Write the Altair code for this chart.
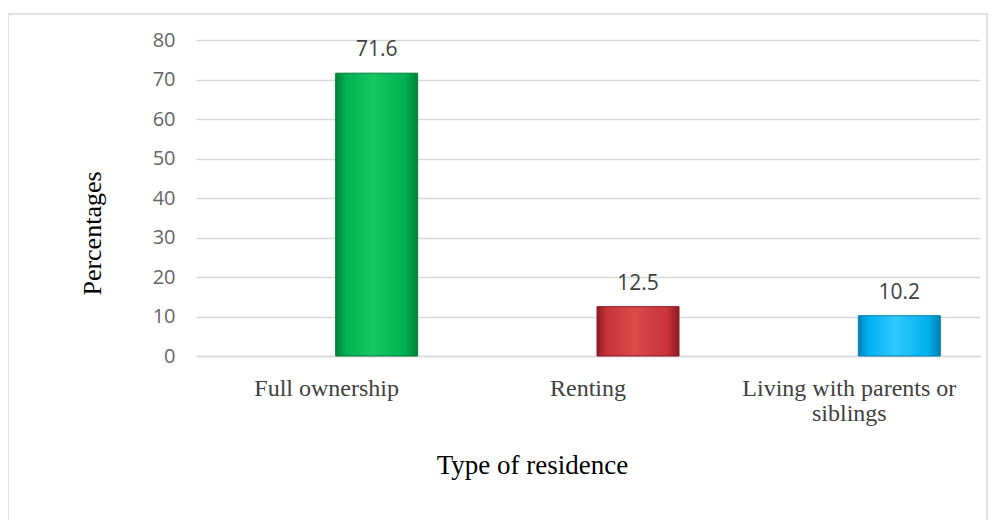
import altair as alt
import pandas as pd

categories = ["Full ownership", "Renting", "Living with parents or siblings"]
values = [71.6, 12.5, 10.2]
y_ticks = [0, 10, 20, 30, 40, 50, 60, 70, 80]
fills = ["#00b050", "#c8343a", "#00b0f0"]
edges = ["#00803a", "#8e1b25", "#0080b0"]
lights = ["#16c862", "#dc4a48", "#33c8ff"]

df = pd.DataFrame({"category": categories, "value": values})

x_enc = alt.X(
    "category:N",
    sort=categories,
    scale=alt.Scale(paddingInner=0, paddingOuter=0),
    axis=alt.Axis(
        title="Type of residence",
        titleFont="Liberation Serif",
        titleFontSize=27,
        titleFontWeight="normal",
        titleColor="#000000",
        titleX=336,
        titleY=117,
        titleBaseline="alphabetic",
        labelAngle=0,
        labelFont="Liberation Serif",
        labelFontSize=24,
        labelColor="#404040",
        labelPadding=20,
        labelLineHeight=25,
        labelLimit=0,
        labelExpr="datum.label == 'Living with parents or siblings' ? ['Living with parents or', 'siblings'] : datum.label",
        ticks=False,
        domain=True,
        domainColor="#d9d9d9",
        domainWidth=1.5,
        grid=False,
    ),
)

y_enc = alt.Y(
    "value:Q",
    scale=alt.Scale(domain=[0, 80], nice=False),
    axis=alt.Axis(
        title="Percentages",
        titleFont="Liberation Serif",
        titleFontSize=26,
        titleFontWeight="normal",
        titleColor="#000000",
        titleX=-104,
        titleY=193,
        titleBaseline="middle",
        values=y_ticks,
        labelFont="Open Sans",
        labelFontSize=20,
        labelColor="#666666",
        labelPadding=21,
        ticks=False,
        domain=False,
        grid=True,
        gridColor="#d9d9d9",
        gridWidth=1.5,
    ),
)

base = alt.Chart(df)

bar_layers = []
for cat, f, e, l in zip(categories, fills, edges, lights):
    grad = alt.Gradient(
        gradient="linear",
        x1=0, x2=1, y1=0, y2=0,
        stops=[
            alt.GradientStop(color=e, offset=0),
            alt.GradientStop(color=f, offset=0.12),
            alt.GradientStop(color=l, offset=0.45),
            alt.GradientStop(color=f, offset=0.85),
            alt.GradientStop(color=e, offset=1),
        ],
    )
    bar_layers.append(
        base.transform_filter(alt.datum.category == cat)
        .mark_bar(width=82, xOffset=50, color=grad, stroke=e, strokeWidth=1)
        .encode(x=x_enc, y=y_enc)
    )

text = base.mark_text(
    xOffset=50, dy=-17, baseline="alphabetic", font="Open Sans", fontSize=21, color="#404040"
).encode(x=x_enc, y=y_enc, text=alt.Text("value:Q", format=".1f"))

border = alt.Chart(alt.Data(values=[{}])).mark_rect(
    fill=None, stroke="#d9d9d9", strokeWidth=1.5
).encode(x=alt.value(-188), x2=alt.value(791), y=alt.value(-26), y2=alt.value(490))

chart = alt.layer(border, *bar_layers, text).properties(
    width=784,
    height=316,
    autosize=alt.AutoSizeParams(type="none"),
    padding={"left": 188, "top": 32, "right": 8, "bottom": 164},
    background="#ffffff",
).configure_view(stroke=None)

chart.save("out.html", embed_options={"renderer": "svg", "actions": False})
